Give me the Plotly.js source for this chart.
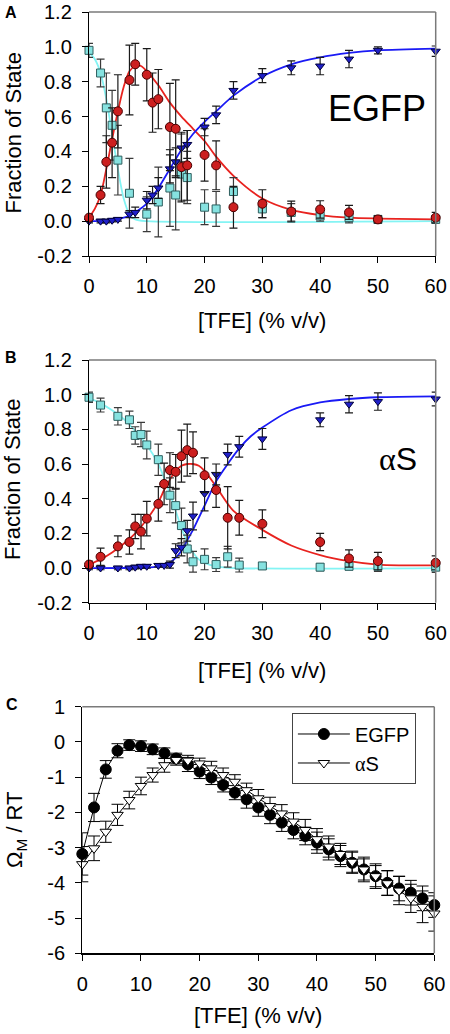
<!DOCTYPE html>
<html>
<head>
<meta charset="utf-8">
<script src="https://cdn.plot.ly/plotly-3.0.1.min.js"></script>
<style>html,body{margin:0;padding:0;background:#fff;}#chart{width:450px;height:1034px;}</style>
</head>
<body>
<div id="chart"></div>
<script>
// ---------- Panel A (EGFP) ----------
const aCyanX = [0,2,3,4,5,7,10,12,14,15,16,17,20,22,25,30,35,40,45,50,60];
const aCyanY = [0.98,0.85,0.65,0.55,0.35,0.16,0.04,0.11,0.19,0.15,0.27,0.25,0.08,0.07,0.17,0.07,0.05,0.03,0.02,0.01,0.01];
const aCyanE = [0.04,0.08,0.2,0.2,0.2,0.2,0.1,0.2,0.22,0.2,0.15,0.15,0.1,0.1,0.08,0.05,0.05,0.03,0.03,0.02,0.02];
const aRedX = [0,2,3,4,5,7,8,10,11,12,14,15,16,17,20,22,25,30,35,40,45,50,60];
const aRedY = [0.02,0.15,0.34,0.45,0.63,0.81,0.9,0.84,0.68,0.7,0.54,0.53,0.31,0.32,0.38,0.32,0.08,0.1,0.055,0.067,0.05,0.01,0.02];
const aRedE = [0.02,0.05,0.15,0.2,0.21,0.2,0.12,0.15,0.17,0.17,0.25,0.28,0.2,0.2,0.15,0.14,0.12,0.08,0.06,0.05,0.04,0.02,0.03];
const aBlueX = [0,2,3,4,5,7,8,10,11,12,14,15,16,17,20,22,25,30,35,40,45,50,60];
const aBlueY = [0.0,0.0,0.0,0.005,0.01,0.04,0.05,0.12,0.15,0.19,0.3,0.34,0.42,0.44,0.54,0.61,0.75,0.835,0.88,0.89,0.93,0.98,0.975];
const aBlueE = [0.01,0.01,0.01,0.01,0.01,0.02,0.03,0.05,0.05,0.06,0.08,0.08,0.08,0.08,0.05,0.05,0.05,0.04,0.04,0.05,0.05,0.02,0.03];
// fitted curves
const aCyanFitX = [0,1,2,3,4,5,6,7,8,10,60];
const aCyanFitY = [0.97,0.93,0.85,0.7,0.5,0.3,0.13,0.04,0.01,0,0];
const aRedFitX = [0,1,2,3,4,5,6,7,8,9,10,12,14,16,18,20,22,25,30,35,40,45,50,60];
const aRedFitY = [0.02,0.07,0.15,0.3,0.47,0.63,0.77,0.86,0.89,0.89,0.86,0.78,0.68,0.6,0.53,0.46,0.37,0.26,0.13,0.065,0.035,0.02,0.015,0.01];
const aBlueFitX = [0,3,5,7,8,10,12,14,16,18,20,22,25,30,35,40,45,50,60];
const aBlueFitY = [0,0.003,0.012,0.03,0.05,0.1,0.19,0.3,0.41,0.5,0.57,0.63,0.72,0.83,0.9,0.94,0.965,0.98,0.99];

// ---------- Panel B (alpha-synuclein) ----------
const bCyanX = [0,2,5,7,8,9,10,12,14,15,16,17,18,20,22,24,26,30,40,45,50,60];
const bCyanY = [0.985,0.94,0.875,0.855,0.765,0.77,0.71,0.625,0.42,0.36,0.245,0.11,0.036,0.05,0.02,0.065,0.017,0.012,0.005,0.01,0.01,0.005];
const bCyanE = [0.03,0.04,0.05,0.05,0.05,0.07,0.08,0.09,0.1,0.1,0.1,0.08,0.06,0.06,0.04,0.06,0.04,0.02,0.02,0.02,0.03,0.03];
const bRedX = [0,2,5,7,8,9,10,12,13,14,15,16,17,18,20,22,24,26,30,40,45,50,60];
const bRedY = [0.02,0.065,0.125,0.15,0.24,0.21,0.285,0.37,0.485,0.565,0.555,0.645,0.68,0.665,0.535,0.45,0.29,0.29,0.255,0.15,0.055,0.04,0.03];
const bRedE = [0.02,0.05,0.06,0.07,0.07,0.1,0.1,0.1,0.12,0.1,0.1,0.15,0.15,0.12,0.1,0.1,0.18,0.1,0.08,0.05,0.05,0.05,0.04];
const bBlueX = [0,2,5,7,8,9,10,12,13,14,15,16,17,18,20,22,24,26,30,40,45,50,60];
const bBlueY = [0,0,0,0,0.005,0.01,0.01,0.015,0.015,0.02,0.1,0.12,0.215,0.3,0.43,0.54,0.655,0.7,0.745,0.855,0.945,0.96,0.975];
const bBlueE = [0.01,0.01,0.01,0.01,0.01,0.01,0.01,0.01,0.01,0.02,0.04,0.05,0.06,0.08,0.1,0.06,0.06,0.06,0.06,0.04,0.05,0.05,0.04];
const bCyanFitX = [0,2,4,6,8,10,12,13,14,15,16,17,18,19,20,22,25,60];
const bCyanFitY = [0.98,0.95,0.91,0.86,0.79,0.71,0.6,0.52,0.43,0.33,0.23,0.15,0.09,0.05,0.03,0.01,0,0];
const bRedFitX = [0,2,4,6,8,10,12,13,14,15,16,17,18,19,20,22,25,30,35,40,45,50,60];
const bRedFitY = [0.02,0.05,0.09,0.14,0.2,0.28,0.38,0.45,0.51,0.56,0.59,0.6,0.6,0.59,0.56,0.47,0.33,0.22,0.13,0.075,0.04,0.02,0.015];
const bBlueFitX = [0,10,12,14,15,16,17,18,19,20,22,24,26,28,30,35,40,45,50,60];
const bBlueFitY = [0,0.003,0.01,0.03,0.06,0.1,0.16,0.22,0.29,0.36,0.5,0.6,0.69,0.76,0.81,0.91,0.955,0.975,0.985,0.99];

// ---------- Panel C ----------
const cX = [0,2,4,6,8,10,12,14,16,18,20,22,24,26,28,30,32,34,36,38,40,42,44,46,48,50,52,54,56,58,60];
const cEgfpY = [-3.18,-1.86,-0.78,-0.25,-0.09,-0.12,-0.21,-0.32,-0.47,-0.64,-0.84,-1.01,-1.22,-1.44,-1.63,-1.86,-2.07,-2.29,-2.5,-2.67,-2.86,-3.05,-3.24,-3.43,-3.62,-3.81,-4.0,-4.16,-4.28,-4.44,-4.63];
const cEgfpE = [0.6,0.4,0.25,0.2,0.15,0.15,0.15,0.15,0.15,0.2,0.2,0.2,0.2,0.2,0.25,0.25,0.25,0.25,0.25,0.25,0.3,0.3,0.3,0.3,0.3,0.3,0.35,0.35,0.35,0.35,0.35];
const cAsY = [-3.47,-3.02,-2.55,-2.07,-1.65,-1.25,-0.94,-0.66,-0.51,-0.53,-0.61,-0.75,-0.94,-1.13,-1.37,-1.6,-1.82,-2.03,-2.26,-2.5,-2.76,-2.97,-3.18,-3.4,-3.62,-3.81,-4.01,-4.22,-4.44,-4.68,-4.87];
const cAsE = [0.5,0.35,0.3,0.3,0.25,0.25,0.2,0.2,0.15,0.15,0.15,0.2,0.2,0.2,0.2,0.25,0.25,0.25,0.25,0.3,0.3,0.3,0.3,0.3,0.35,0.35,0.35,0.4,0.4,0.45,0.5];

// tick labels
const xTickVals = [0,10,20,30,40,50,60];
const xTickText = ['0','10','20','30','40','50','60'];
const fracTickVals = [-0.2,0,0.2,0.4,0.6,0.8,1.0,1.2];
const fracTickText = ['-0.2','0.0','0.2','0.4','0.6','0.8','1.0','1.2'];
const omegaTickVals = [-6,-5,-4,-3,-2,-1,0,1];
const omegaTickText = ['-6','-5','-4','-3','-2','-1','0','1'];

// ---------- styling / layout ----------
const W = 450, H = 1034;
const FONT = 'Liberation Sans, Arial, sans-serif';
const px = v => v / W;
const py = v => 1 - v / H;
const ALPHA_S = '<span style="font-family:Liberation Serif">α</span>S';

const RED = '#cc1f1f', RED_LINE = '#e8231f', RED_EDGE = '#4a0000';
const CYAN = '#86e2e0', CYAN_LINE = '#84f4f4', CYAN_EDGE = '#2e5e5e';
const BLUE = '#1f1fc8', BLUE_LINE = '#1a1af5', BLUE_EDGE = '#00003a';

function fitLine(x, y, color, xa, ya) {
  return {x, y, xaxis: xa, yaxis: ya, type: 'scatter', mode: 'lines', showlegend: false,
    line: {color, width: 1.8, shape: 'spline', smoothing: 0.8}, hoverinfo: 'skip'};
}
function pts(x, y, e, sym, size, fill, edge, ecol, xa, ya) {
  return {x, y, xaxis: xa, yaxis: ya, type: 'scatter', mode: 'markers', showlegend: false, cliponaxis: false,
    marker: {symbol: sym, size, color: fill, line: {color: edge, width: 1}},
    error_y: {type: 'data', array: e, visible: true, color: ecol, thickness: 1.2, width: 4}};
}

const traces = [
  fitLine(aCyanFitX, aCyanFitY, CYAN_LINE, 'x', 'y'),
  fitLine(aRedFitX, aRedFitY, RED_LINE, 'x', 'y'),
  fitLine(aBlueFitX, aBlueFitY, BLUE_LINE, 'x', 'y'),
  pts(aCyanX, aCyanY, aCyanE, 'square', 8, CYAN, CYAN_EDGE, '#3a3a3a', 'x', 'y'),
  pts(aBlueX, aBlueY, aBlueE, 'triangle-down', 8, BLUE, BLUE_EDGE, '#1a1a1a', 'x', 'y'),
  pts(aRedX, aRedY, aRedE, 'circle', 9, RED, RED_EDGE, '#1a1a1a', 'x', 'y'),

  fitLine(bCyanFitX, bCyanFitY, CYAN_LINE, 'x2', 'y2'),
  fitLine(bRedFitX, bRedFitY, RED_LINE, 'x2', 'y2'),
  fitLine(bBlueFitX, bBlueFitY, BLUE_LINE, 'x2', 'y2'),
  pts(bCyanX, bCyanY, bCyanE, 'square', 8, CYAN, CYAN_EDGE, '#3a3a3a', 'x2', 'y2'),
  pts(bBlueX, bBlueY, bBlueE, 'triangle-down', 8, BLUE, BLUE_EDGE, '#1a1a1a', 'x2', 'y2'),
  pts(bRedX, bRedY, bRedE, 'circle', 9, RED, RED_EDGE, '#1a1a1a', 'x2', 'y2'),

  {x: cX, y: cEgfpY, xaxis: 'x3', yaxis: 'y3', type: 'scatter', mode: 'lines+markers', name: 'EGFP', cliponaxis: false,
   line: {color: '#000', width: 1}, marker: {symbol: 'circle', size: 11, color: '#000', line: {color: '#000', width: 1}},
   error_y: {type: 'data', array: cEgfpE, visible: true, color: '#000', thickness: 1, width: 6}},
  {x: cX, y: cAsY, xaxis: 'x3', yaxis: 'y3', type: 'scatter', mode: 'lines+markers',
   name: ALPHA_S, cliponaxis: false,
   line: {color: '#000', width: 1}, marker: {symbol: 'triangle-down', size: 10, color: '#fff', line: {color: '#000', width: 1}},
   error_y: {type: 'data', array: cAsE, visible: true, color: '#000', thickness: 1, width: 6}}
];

function xAx(domain, anchor) {
  return {domain, anchor, range: [0, 60], tickvals: xTickVals, ticktext: xTickText,
    ticks: 'outside', ticklen: 6, tickwidth: 1, tickcolor: '#000', ticklabelstandoff: 6,
    showline: true, linecolor: '#000', linewidth: 1.2, showgrid: false, zeroline: false,
    tickfont: {family: FONT, size: 20, color: '#000'}, fixedrange: true};
}
function yAx(domain, anchor, range, vals, text) {
  return {domain, anchor, range, tickvals: vals, ticktext: text,
    ticks: 'outside', ticklen: 6, tickwidth: 1, tickcolor: '#000', ticklabelstandoff: 6,
    showline: true, linecolor: '#000', linewidth: 1.2, showgrid: false, zeroline: false,
    tickfont: {family: FONT, size: 20, color: '#000'}, fixedrange: true};
}

const domA_x = [px(89), px(435.7)], domA_y = [py(256), py(12)];
const domB_x = [px(89), px(435.7)], domB_y = [py(602.7), py(360)];
const domC_x = [px(82.3), px(434.3)], domC_y = [py(953.3), py(706.7)];

function frame(xr, yr) {
  return [
    {type: 'line', xref: xr + ' domain', yref: yr + ' domain', x0: 0, x1: 1, y0: 1, y1: 1, line: {color: '#7a7a7a', width: 1.5}},
    {type: 'line', xref: xr + ' domain', yref: yr + ' domain', x0: 1, x1: 1, y0: 0, y1: 1, line: {color: '#7a7a7a', width: 1.5}}
  ];
}

function ann(text, x, y, size, extra) {
  return Object.assign({text, xref: 'paper', yref: 'paper', x: px(x), y: py(y), xanchor: 'center', yanchor: 'middle',
    showarrow: false, font: {family: FONT, size, color: '#000'}}, extra || {});
}

const layout = {
  width: W, height: H, margin: {l: 0, r: 0, t: 0, b: 0},
  paper_bgcolor: '#fff', plot_bgcolor: '#fff', showlegend: true,
  font: {family: FONT, color: '#000'},
  xaxis: xAx(domA_x, 'y'), yaxis: yAx(domA_y, 'x', [-0.2, 1.2], fracTickVals, fracTickText),
  xaxis2: xAx(domB_x, 'y2'), yaxis2: yAx(domB_y, 'x2', [-0.2, 1.2], fracTickVals, fracTickText),
  xaxis3: xAx(domC_x, 'y3'), yaxis3: yAx(domC_y, 'x3', [-6, 1], omegaTickVals, omegaTickText),
  legend: {x: px(291.7), y: py(713.3), xanchor: 'left', yanchor: 'top', bgcolor: '#fff', itemwidth: 52,
    bordercolor: '#444', borderwidth: 1.2, font: {family: FONT, size: 20, color: '#000'}, tracegroupgap: 0},
  shapes: [].concat(frame('x', 'y'), frame('x2', 'y2'), frame('x3', 'y3')),
  annotations: [
    ann('<b>A</b>', 11, 12.5, 16),
    ann('<b>B</b>', 11, 357, 16),
    ann('<b>C</b>', 12, 704, 16),
    ann('Fraction of State', 13, 133.5, 22, {textangle: -90}),
    ann('Fraction of State', 13, 480, 22, {textangle: -90}),
    ann('Ω<sub>M</sub> / RT', 16, 830, 22, {textangle: -90}),
    ann('[TFE] (% v/v)', 262, 320, 22),
    ann('[TFE] (% v/v)', 262, 670, 22),
    ann('[TFE] (% v/v)', 258, 1016, 22),
    ann('EGFP', 376.7, 108, 36),
    ann(ALPHA_S, 398, 459, 32)
  ]
};

Plotly.newPlot('chart', traces, layout, {displayModeBar: false, staticPlot: true});
</script>
</body>
</html>
